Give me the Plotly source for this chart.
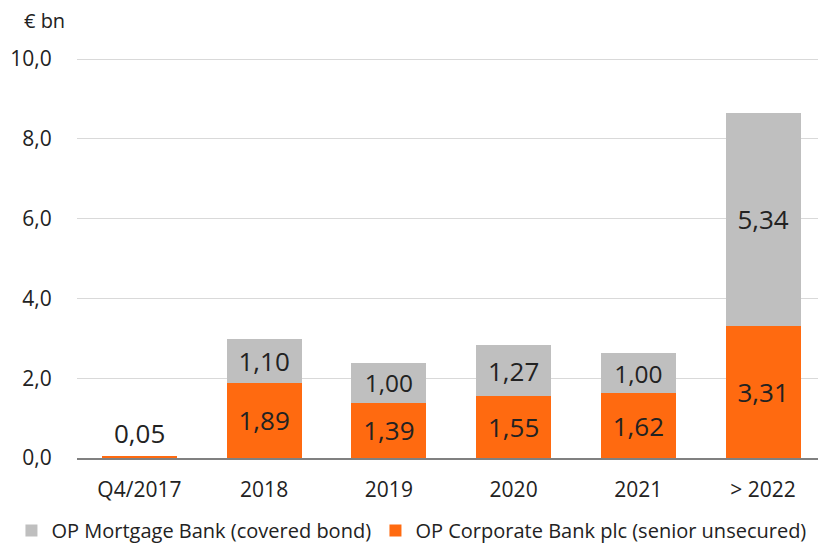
import plotly.graph_objects as go

categories = ["Q4/2017", "2018", "2019", "2020", "2021", "> 2022"]
corporate = [0.05, 1.89, 1.39, 1.55, 1.62, 3.31]
mortgage = [None, 1.10, 1.00, 1.27, 1.00, 5.34]
y_ticks = [0, 2, 4, 6, 8, 10]

ORANGE = "#FF6A10"
GREY = "#BFBFBF"
TXT = "#222222"
FONT = "Open Sans"

def fmt(v):
    return "" if v is None else f"{v:.2f}".replace(".", ",")

corp_text = [fmt(v) if i > 0 else "" for i, v in enumerate(corporate)]
mort_text = [fmt(v) for v in mortgage]

fig = go.Figure()
fig.add_trace(go.Bar(
    x=categories, y=corporate, name="OP Corporate Bank plc (senior unsecured)",
    marker=dict(color=ORANGE, line=dict(width=0)),
    text=corp_text, textposition="inside", insidetextanchor="middle",
    textfont=dict(family=FONT, size=26, color=TXT), width=0.6,
    legend="legend2",
))
fig.add_trace(go.Bar(
    x=categories, y=mortgage, name="OP Mortgage Bank (covered bond)",
    marker=dict(color=GREY, line=dict(width=0)),
    text=mort_text, textposition="inside", insidetextanchor="middle",
    textfont=dict(family=FONT, size=26, color=TXT), width=0.6,
    legend="legend",
))

fig.add_annotation(x=categories[0], y=corporate[0], text=fmt(corporate[0]),
                   showarrow=False, yanchor="bottom", yshift=3,
                   font=dict(family=FONT, size=26, color=TXT))
fig.add_annotation(xref="paper", yref="paper", x=-0.074, y=1.092,
                   xanchor="left", yanchor="middle", text="€ bn", showarrow=False,
                   font=dict(family=FONT, size=20, color=TXT))

legend_common = dict(orientation="h", xref="container", yref="container",
                     xanchor="left", yanchor="middle", y=0.03,
                     font=dict(family=FONT, size=20, color=TXT),
                     itemwidth=30, bgcolor="rgba(0,0,0,0)", borderwidth=0)

fig.update_layout(
    width=818, height=547, barmode="stack", separators=", ",
    plot_bgcolor="white", paper_bgcolor="white",
    margin=dict(l=77, r=0, t=57, b=89, autoexpand=False),
    font=dict(family=FONT, size=20, color=TXT),
    showlegend=True,
    legend=dict(x=0.014, **legend_common),
    legend2=dict(x=0.459, **legend_common),
)
fig.update_xaxes(range=[-0.5, 5.44], showgrid=False, showline=True, automargin=False,
                 linecolor="#808080", linewidth=1.5,
                 ticks="outside", ticklen=12, tickcolor="rgba(0,0,0,0)",
                 tickfont=dict(family=FONT, size=21, color=TXT))
fig.update_yaxes(range=[0, 10.05], tickvals=y_ticks, tickformat=".1f", automargin=False,
                 showgrid=True, gridcolor="#D9D9D9", gridwidth=1, zeroline=False,
                 ticks="outside", ticklen=20, tickcolor="rgba(0,0,0,0)",
                 tickfont=dict(family=FONT, size=21, color=TXT))

fig.write_html("out.html", config={"displayModeBar": False},
               post_script="document.body.style.margin='0px';")
